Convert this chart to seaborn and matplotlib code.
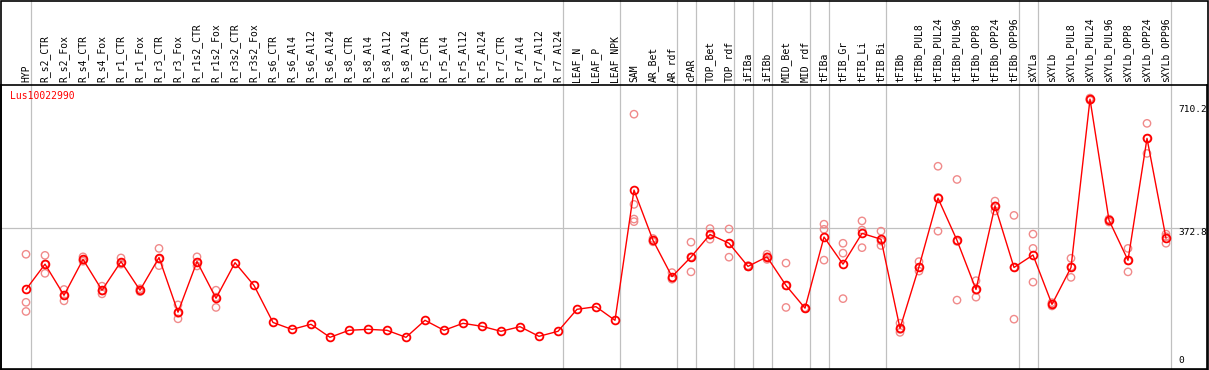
import numpy as np
import pandas as pd
import matplotlib
matplotlib.use("Agg")
import matplotlib.pyplot as plt
from matplotlib.patches import Rectangle
import seaborn as sns

# ---------------- data ----------------
title = "Lus10022990"
categories = [
    "HYP", "R_s2_CTR", "R_s2_Fox", "R_s4_CTR", "R_s4_Fox", "R_r1_CTR", "R_r1_Fox",
    "R_r3_CTR", "R_r3_Fox", "R_r1s2_CTR", "R_r1s2_Fox", "R_r3s2_CTR", "R_r3s2_Fox",
    "R_s6_CTR", "R_s6_Al4", "R_s6_Al12", "R_s6_Al24", "R_s8_CTR", "R_s8_Al4",
    "R_s8_Al12", "R_s8_Al24", "R_r5_CTR", "R_r5_Al4", "R_r5_Al12", "R_r5_Al24",
    "R_r7_CTR", "R_r7_Al4", "R_r7_Al12", "R_r7_Al24", "LEAF_N", "LEAF_P", "LEAF_NPK",
    "SAM", "AR_Bet", "AR_rdf", "cPAR", "TOP_Bet", "TOP_rdf", "iFIBa", "iFIBb",
    "MID_Bet", "MID_rdf", "tFIBa", "tFIB_Gr", "tFIB_Li", "tFIB_Bi", "tFIBb",
    "tFIBb_PUL8", "tFIBb_PUL24", "tFIBb_PUL96", "tFIBb_OPP8", "tFIBb_OPP24",
    "tFIBb_OPP96", "sXYLa", "sXYLb", "sXYLb_PUL8", "sXYLb_PUL24", "sXYLb_PUL96",
    "sXYLb_OPP8", "sXYLb_OPP24", "sXYLb_OPP96",
]
mean_values = [
    206, 275, 190, 288, 204, 282, 204, 293, 144, 282, 182, 279, 217,
    116, 97, 111, 75.5, 94.6, 97.3, 94.6, 75.5, 121.9, 94.6, 113.7, 105.5,
    91.9, 104.5, 78.2, 91.9, 151.9, 159, 121.9,
    477, 340, 241, 294.5, 356, 332, 269, 295, 217, 155, 349, 275, 359, 343, 100,
    268, 455, 340, 206, 434, 266, 300, 165.5, 266, 725, 395, 285.5, 618, 346,
]
replicate_values = [
    [302, 171, 146], [299, 250, 275], [206, 175, 190], [295, 283, 287],
    [215, 194, 202], [292, 279, 275], [208, 200, 203], [318, 271, 289],
    [164, 126, 141], [295, 270, 280], [204, 157, 185], [], [],
    [], [], [], [], [], [], [], [], [], [], [], [], [], [], [], [], [], [], [],
    [684, 438, 398, 391], [345, 336, 339], [252, 234, 237], [335, 254, 295],
    [372, 343, 354], [371, 294, 331], [271, 268, 268], [302, 288, 295],
    [278, 157, 216], [155, 154, 156], [384, 370, 286], [332, 305, 181],
    [393, 368, 320], [365, 326, 338], [114, 89, 97],
    [282, 256, 266], [542, 365, 457], [506, 177, 337], [230, 185, 204],
    [447, 420, 434], [408, 125, 266], [357, 318, 226], [161, 170, 166],
    [291, 239, 268], [725, 722, 728], [398, 390, 396], [318, 254, 284],
    [659, 577, 618], [357, 332, 350],
]
group_ends = ["HYP", "R_r7_Al24", "LEAF_NPK", "AR_rdf", "cPAR", "TOP_rdf", "iFIBa",
              "iFIBb", "MID_rdf", "tFIBa", "tFIB_Bi", "tFIBb_OPP96", "sXYLa",
              "sXYLb_OPP96"]
right_labels = [710.2, 372.8, 0]
grid_value = 372.8

# ---------------- frames ----------------
pos = np.arange(len(categories))
mean_df = pd.DataFrame({"pos": pos, "value": mean_values})
rep_rows = [(i, v) for i, reps in enumerate(replicate_values) for v in reps]
rep_df = pd.DataFrame(rep_rows, columns=["pos", "value"])

# ---------------- figure ----------------
sns.set_style("white")
plt.rcParams["font.family"] = ["DejaVu Sans Mono", "DejaVu Sans"]

W, H = 1209, 370
fig = plt.figure(figsize=(W / 100, H / 100), dpi=100)
ax_left, ax_right, ax_top, ax_bottom = 1, 1207, 85, 369
ax = fig.add_axes([ax_left / W, 1 - ax_bottom / H,
                   (ax_right - ax_left) / W, (ax_bottom - ax_top) / H])

# scale: 0 at px 365, 372.8 at px 228.3
px_per_unit = (365 - 228.3) / 372.8
ymin = -(ax_bottom - 365) / px_per_unit
ymax = (365 - ax_top) / px_per_unit
ax.set_ylim(ymin, ymax)
x0 = (ax_left - 26) / 19
x1 = (ax_right - 26) / 19
ax.set_xlim(x0, x1)

grey = "#c0c0c0"
ext = 1 + ax_top / (ax_bottom - ax_top)
for name in group_ends:
    xi = categories.index(name) + 0.25
    ax.plot([xi, xi], [0, ext], transform=ax.get_xaxis_transform(),
            color=grey, lw=0.9, clip_on=False, zorder=1)
ax.axhline(grid_value, color=grey, lw=0.9, zorder=1)

sns.scatterplot(data=rep_df, x="pos", y="value", ax=ax, marker="o", s=28,
                facecolor="none", edgecolor="#f08a8a", linewidth=1.0, zorder=3,
                legend=False)
sns.lineplot(data=mean_df, x="pos", y="value", ax=ax, color="red", lw=1.0,
             marker="o", markersize=5.6, markerfacecolor="none",
             markeredgecolor="red", markeredgewidth=1.3, zorder=4, legend=False)

ax.set_xlabel("")
ax.set_ylabel("")
ax.set_yticks([])
ax.xaxis.tick_top()
ax.set_xticks(pos)
ax.set_xticklabels(categories, rotation=90, fontsize=7, color="black",
                   fontfamily="DejaVu Sans Mono")
ax.tick_params(axis="x", length=0, pad=2)

for spine in ax.spines.values():
    spine.set_visible(True)
    spine.set_color("black")
    spine.set_linewidth(1.2)

ax.text(9 / (ax_right - ax_left), 1 - 6 / (ax_bottom - ax_top), title,
        transform=ax.transAxes, color="red", fontsize=7, va="top", ha="left",
        fontfamily="DejaVu Sans Mono")

lab_x = (1178 - ax_left) / (ax_right - ax_left)
for v in right_labels:
    va = "bottom" if v == 0 else "top"
    ax.text(lab_x, v, f"{v:g}", transform=ax.get_yaxis_transform(),
            fontsize=6.8, va=va, ha="left", color="black",
            fontfamily="DejaVu Sans Mono")

fig.add_artist(Rectangle((0.5 / W, 0.5 / H), (W - 1.5) / W, (H - 1.5) / H,
                         transform=fig.transFigure, fill=False,
                         edgecolor="black", lw=1.2))

fig.savefig("out.png", dpi=100)
